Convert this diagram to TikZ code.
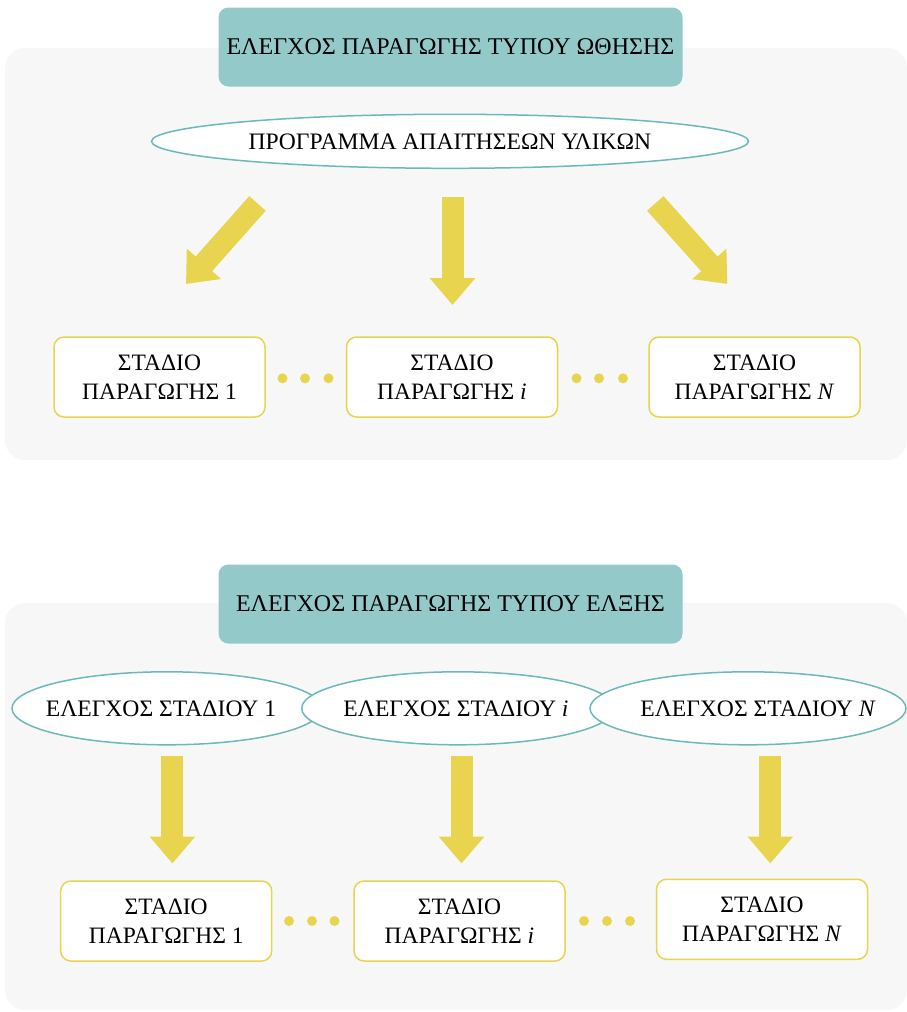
\documentclass[tikz,border=0pt]{standalone}
\usepackage{fontspec}
\setmainfont{Liberation Serif}
\usetikzlibrary{arrows.meta,shapes.geometric}
\definecolor{panelgray}{HTML}{F7F7F7}
\definecolor{titleteal}{HTML}{93C9C9}
\definecolor{edgeteal}{HTML}{6CB9B9}
\definecolor{ylw}{HTML}{E8D44F}
\tikzset{
  panel/.style={fill=panelgray, rounded corners=20pt},
  titlebox/.style={rectangle, fill=titleteal, rounded corners=10pt, minimum width=464pt, minimum height=79pt, inner sep=0pt, font=\fontsize{24}{28}\selectfont},
  ctrlellipse/.style={ellipse, draw=edgeteal, line width=1.5pt, fill=white, inner sep=0pt, font=\fontsize{23.6}{28}\selectfont},
  stagebox/.style={rectangle, draw=ylw, line width=1.5pt, fill=white, rounded corners=10pt, minimum width=211pt, minimum height=80pt, inner sep=0pt, align=center, font=\fontsize{23.5}{28.5}\selectfont},
  fatarrow/.style={draw=ylw, fill=ylw, line width=22pt, -{Triangle[length=27pt,width=44pt]}},
  dotmark/.style={circle, fill=ylw, minimum size=10pt, inner sep=0pt},
}
\begin{document}
\begin{tikzpicture}[x=1pt,y=-1pt]
\useasboundingbox (0,0) rectangle (907,1012);
% ---------- top panel ----------
\fill[panel] (5,48) rectangle (907,460);
\node[titlebox] (t1) at (450.5,47) {ΕΛΕΓΧΟΣ ΠΑΡΑΓΩΓΗΣ ΤΥΠΟΥ ΩΘΗΣΗΣ};
\node[ctrlellipse, minimum width=597pt, minimum height=54pt] (mrp) at (450,141.3) {ΠΡΟΓΡΑΜΜΑ ΑΠΑΙΤΗΣΕΩΝ ΥΛΙΚΩΝ};
\coordinate (a1s) at (257.5,203.4); \coordinate (a1e) at (186,284);
\coordinate (a2s) at (452.5,197);   \coordinate (a2e) at (452.5,305);
\coordinate (a3s) at (655.3,203.4); \coordinate (a3e) at (727.3,284);
\draw[fatarrow] (a1s) -- (a1e);
\draw[fatarrow] (a2s) -- (a2e);
\draw[fatarrow] (a3s) -- (a3e);
\node[stagebox] (s1) at (159.5,377) {ΣΤΑΔΙΟ\\ΠΑΡΑΓΩΓΗΣ 1};
\node[stagebox] (si) at (452,377) {ΣΤΑΔΙΟ\\ΠΑΡΑΓΩΓΗΣ \textit{i}};
\node[stagebox] (sn) at (754.5,377) {ΣΤΑΔΙΟ\\ΠΑΡΑΓΩΓΗΣ \textit{N}};
\node[dotmark] (d1) at (282.5,378.3) {};
\node[dotmark] (d2) at (305,378.3) {};
\node[dotmark] (d3) at (328.5,378.3) {};
\node[dotmark] (d4) at (576.5,378.3) {};
\node[dotmark] (d5) at (599,378.3) {};
\node[dotmark] (d6) at (623,378.3) {};
% ---------- bottom panel ----------
\fill[panel] (5,603) rectangle (907,1010);
\node[titlebox] (t2) at (450.5,604) {ΕΛΕΓΧΟΣ ΠΑΡΑΓΩΓΗΣ ΤΥΠΟΥ ΕΛΞΗΣ};
\node[ctrlellipse, minimum width=310pt, minimum height=73pt] (c1) at (167,708.3) {\hspace*{-12pt}ΕΛΕΓΧΟΣ ΣΤΑΔΙΟΥ 1};
\node[ctrlellipse, minimum width=307pt, minimum height=73pt] (ci) at (458,708.3) {\hspace*{-4pt}ΕΛΕΓΧΟΣ ΣΤΑΔΙΟΥ \textit{i}};
\node[ctrlellipse, minimum width=316pt, minimum height=73pt] (cn) at (748,708.3) {ΕΛΕΓΧΟΣ ΣΤΑΔΙΟΥ \textit{N}\hspace*{-20pt}};
\coordinate (b1s) at (172.4,756); \coordinate (b1e) at (172.4,863.5);
\coordinate (b2s) at (461.5,756); \coordinate (b2e) at (461.5,863.5);
\coordinate (b3s) at (770.3,756); \coordinate (b3e) at (770.3,863.5);
\draw[fatarrow] (b1s) -- (b1e);
\draw[fatarrow] (b2s) -- (b2e);
\draw[fatarrow] (b3s) -- (b3e);
\node[stagebox] (p1) at (166.2,921) {ΣΤΑΔΙΟ\\ΠΑΡΑΓΩΓΗΣ 1};
\node[stagebox] (pi) at (459.5,921) {ΣΤΑΔΙΟ\\ΠΑΡΑΓΩΓΗΣ \textit{i}};
\node[stagebox] (pn) at (762,919.3) {ΣΤΑΔΙΟ\\ΠΑΡΑΓΩΓΗΣ \textit{N}};
\node[dotmark] (e1) at (289,921) {};
\node[dotmark] (e2) at (312,921) {};
\node[dotmark] (e3) at (334.5,921) {};
\node[dotmark] (e4) at (584,921) {};
\node[dotmark] (e5) at (607,921) {};
\node[dotmark] (e6) at (630,921) {};
\end{tikzpicture}
\end{document}
